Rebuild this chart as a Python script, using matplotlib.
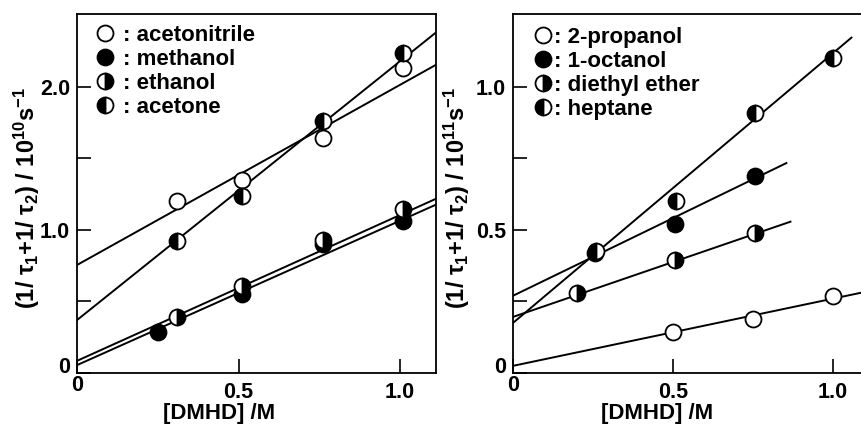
import matplotlib
matplotlib.use("Agg")
import matplotlib.pyplot as plt
import matplotlib.transforms as mtransforms
from matplotlib.lines import Line2D
import numpy as np

plt.rcParams['font.family'] = ['Liberation Sans', 'DejaVu Sans']
plt.rcParams['font.weight'] = 'bold'
plt.rcParams['mathtext.fontset'] = 'custom'
plt.rcParams['mathtext.bf'] = 'Liberation Sans:bold'
plt.rcParams['mathtext.rm'] = 'Liberation Sans:bold'
plt.rcParams['mathtext.it'] = 'Liberation Sans:bold'
plt.rcParams['mathtext.default'] = 'bf'

# left panel data (10^10 s^-1)
left_names = ['acetonitrile', 'methanol', 'ethanol', 'acetone']
left_styles = ['open', 'full', 'right', 'left']
left_x = [
    [0.31, 0.51, 0.76, 1.01],
    [0.25, 0.51, 0.76, 1.01],
    [0.31, 0.51, 0.76, 1.01],
    [0.31, 0.51, 0.76, 1.01],
]
left_y = [
    [1.20, 1.35, 1.64, 2.13],
    [0.29, 0.55, 0.90, 1.06],
    [0.39, 0.61, 0.93, 1.15],
    [0.92, 1.24, 1.76, 2.24],
]
left_intercept = [0.755, 0.055, 0.085, 0.37]
left_slope = [1.26, 1.01, 1.02, 1.81]
left_line_end = [1.12, 1.12, 1.12, 1.12]

# right panel data (10^11 s^-1)
right_names = ['2-propanol', '1-octanol', 'diethyl ether', 'heptane']
right_styles = ['open', 'full', 'right', 'left']
right_x = [
    [0.50, 0.75, 1.00],
    [0.256, 0.506, 0.756],
    [0.20, 0.506, 0.756],
    [0.26, 0.51, 0.755, 1.00],
]
right_y = [
    [0.143, 0.19, 0.27],
    [0.42, 0.52, 0.69],
    [0.28, 0.395, 0.49],
    [0.425, 0.60, 0.91, 1.10],
]
right_intercept = [0.025, 0.27, 0.196, 0.175]
right_slope = [0.235, 0.543, 0.384, 0.943]
right_line_end = [1.1, 0.857, 0.87, 1.06]


def marker_kw(style):
    kw = dict(marker='o', markersize=11.5, markeredgecolor='black',
              markeredgewidth=1.3, linestyle='none')
    if style == 'open':
        kw.update(markerfacecolor='white')
    elif style == 'full':
        kw.update(markerfacecolor='black')
    else:
        kw.update(fillstyle=style, markerfacecolor='black',
                  markerfacecoloralt='white')
    return kw


def draw_panel(fig, ax, names, styles, xs, ys, b0, b1, xend, xlim, ylim,
               yticks, yminor, ylabels, ylabel, ylab_x, xlab_x,
               legend_anchor, textpad):
    for a, b, e in zip(b0, b1, xend):
        lx = np.array([0.0, e])
        ax.plot(lx, a + b * lx, color='black', lw=1.4, zorder=2,
                solid_capstyle='butt')
    for x, y, s in zip(xs, ys, styles):
        ax.plot(x, y, zorder=3, clip_on=False, **marker_kw(s))
    ax.set_xlim(*xlim)
    ax.set_ylim(*ylim)
    ax.set_xticks([0, 0.5, 1.0])
    ax.set_xticklabels(['0', '0.5', '1.0'])
    ax.set_yticks(yticks)
    ax.set_yticklabels(ylabels)
    ax.set_yticks(yminor, minor=True)
    ax.tick_params(axis='both', which='both', direction='in', length=10,
                   width=1.2)
    ax.tick_params(axis='x', pad=6.5, labelsize=15.5)
    ax.tick_params(axis='y', pad=5, labelsize=15.5)
    for sp in ax.spines.values():
        sp.set_linewidth(1.3)

    # the "0" labels sit tucked into the corner
    ax.get_yticklabels()[0].set_va('baseline')
    x0 = ax.get_xticklabels()[0]
    x0.set_transform(x0.get_transform() +
                     mtransforms.ScaledTranslation(0, 5 / 72, fig.dpi_scale_trans))

    ax.set_xlabel('[DMHD] /M', fontsize=16, fontweight='bold')
    ax.xaxis.set_label_coords(xlab_x, -0.128)
    ax.xaxis.label.set_va('baseline')
    ax.set_ylabel(ylabel, fontsize=17, fontweight='bold')
    ax.yaxis.set_label_coords(ylab_x, 0.487)
    handles = [Line2D([], [], **marker_kw(s)) for s in styles]
    ax.legend(handles, [': ' + n for n in names], loc='upper left',
              bbox_to_anchor=legend_anchor, frameon=False, fontsize=16,
              handlelength=0.7, handletextpad=textpad, labelspacing=0.13,
              borderpad=0, borderaxespad=0)


fig = plt.figure(figsize=(8.61, 4.24), dpi=100)
ax1 = fig.add_axes([77 / 861, 1 - 373 / 424, 359 / 861, 359 / 424])
ax2 = fig.add_axes([513 / 861, 1 - 373 / 424, 348 / 861, 359 / 424])

draw_panel(fig, ax1, left_names, left_styles, left_x, left_y, left_intercept,
           left_slope, left_line_end, (0, 1.111), (0, 2.51),
           [0, 1.0, 2.0], [0.5, 1.5], ['0', '1.0', '2.0'],
           r'(1/ $\tau_{1}$+1/ $\tau_{2}$) / 10$^{10}$s$^{-1}$',
           -0.097, 0.395, (0.056, 0.969), 0.45)
draw_panel(fig, ax2, right_names, right_styles, right_x, right_y,
           right_intercept, right_slope, right_line_end, (0, 1.0875),
           (0, 1.255), [0, 0.5, 1.0], [0.25, 0.75], ['0', '0.5', '1.0'],
           r'(1/ $\tau_{1}$+1/ $\tau_{2}$) / 10$^{11}$s$^{-1}$',
           -0.118, 0.413, (0.063, 0.964), 0.15)
ax2.spines['right'].set_visible(False)

fig.savefig('out.png', dpi=100)
